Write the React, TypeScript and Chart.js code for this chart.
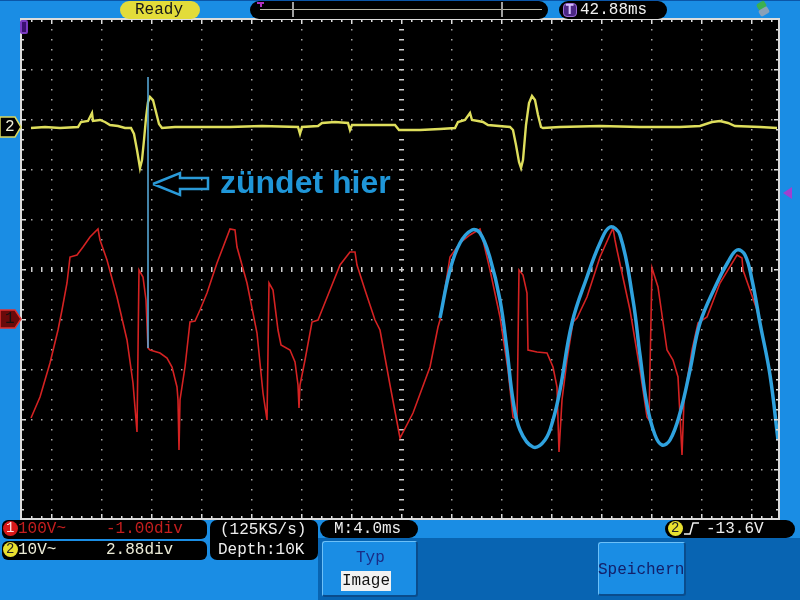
import React, { useEffect, useRef } from "react";
import { Chart, registerables } from "chart.js";

Chart.register(...registerables);

// Axes in oscilloscope divisions (0,0 = screen centre)
const X_MIN = -7.6;
const X_MAX = 7.56;
const Y_MIN = -5;
const Y_MAX = 5;

// CH1 (red), 100V/div
const ch1T = [-7.40,-7.22,-7.02,-6.86,-6.78,-6.68,-6.62,-6.48,-6.36,-6.22,-6.06,-6.02,-5.88,-5.68,-5.48,-5.36,-5.28,-5.24,-5.16,-5.10,-5.06,-5.02,-4.82,-4.68,-4.58,-4.48,-4.46,-4.44,-4.42,-4.32,-4.22,-4.12,-4.02,-3.88,-3.68,-3.42,-3.32,-3.28,-3.08,-2.88,-2.76,-2.68,-2.64,-2.56,-2.46,-2.40,-2.22,-2.12,-2.06,-2.04,-2.02,-1.92,-1.78,-1.66,-1.58,-1.42,-1.22,-1.02,-0.92,-0.88,-0.72,-0.52,-0.42,-0.22,-0.02,0.24,0.58,0.74,0.78,0.98,1.18,1.38,1.58,1.64,1.78,1.98,2.14,2.24,2.32,2.36,2.44,2.52,2.54,2.72,2.92,3.04,3.12,3.16,3.22,3.32,3.44,3.52,3.72,3.98,4.24,4.28,4.32,4.58,4.78,4.92,4.96,5.02,5.14,5.32,5.44,5.54,5.62,5.66,5.82,5.94,6.12,6.38,6.72,6.82,6.84,7.12,7.32,7.42,7.50];
const ch1V = [-2.98,-2.56,-1.88,-1.22,-0.82,-0.28,0.24,0.28,0.44,0.64,0.80,0.58,0.18,-0.56,-1.42,-2.28,-3.26,-0.02,-0.16,-0.62,-1.58,-1.62,-1.68,-1.78,-1.96,-2.36,-2.62,-3.62,-2.62,-1.96,-1.06,-1.04,-0.82,-0.48,0.12,0.80,0.78,0.44,-0.28,-1.28,-2.48,-3.02,-0.28,-0.42,-1.22,-1.52,-1.62,-1.86,-2.32,-2.78,-2.32,-1.82,-1.06,-1.02,-0.82,-0.42,0.08,0.34,0.34,0.08,-0.42,-1.02,-1.22,-2.32,-3.38,-2.88,-1.96,-1.16,-1.02,0.24,0.52,0.68,0.80,0.58,-0.02,-0.96,-2.02,-2.96,-3.02,-0.02,-0.12,-0.48,-1.62,-1.66,-1.68,-1.96,-2.36,-3.66,-2.62,-1.82,-1.06,-0.98,-0.56,0.24,0.82,0.58,0.38,-0.82,-2.02,-2.96,-3.02,0.02,-0.36,-1.62,-1.82,-2.16,-3.72,-2.62,-1.62,-1.08,-0.96,-0.28,0.28,0.22,-0.02,-0.82,-1.76,-2.42,-3.02];

// CH2 (yellow), 10V/div
const ch2T = [-7.40,-7.12,-6.82,-6.46,-6.40,-6.26,-6.18,-6.16,-6.02,-5.92,-5.82,-5.66,-5.52,-5.40,-5.34,-5.28,-5.22,-5.18,-5.14,-5.10,-5.06,-5.02,-4.96,-4.90,-4.84,-4.78,-4.52,-4.02,-3.42,-2.78,-2.06,-2.02,-1.98,-1.66,-1.58,-1.32,-1.06,-1.02,-0.98,-0.22,-0.12,-0.04,0.38,0.78,1.08,1.14,1.28,1.38,1.42,1.54,1.64,1.74,2.18,2.24,2.30,2.36,2.40,2.44,2.50,2.56,2.62,2.68,2.74,2.80,2.84,3.18,3.98,4.78,5.58,5.98,6.22,6.38,6.54,6.68,7.18,7.52];
const ch2V = [2.82,2.84,2.82,2.84,2.94,2.96,3.12,2.96,2.98,2.94,2.88,2.86,2.82,2.82,2.70,2.38,2.02,2.18,2.58,3.02,3.34,3.44,3.38,3.14,2.90,2.82,2.84,2.84,2.84,2.86,2.84,2.70,2.84,2.86,2.92,2.94,2.92,2.78,2.88,2.88,2.88,2.78,2.78,2.80,2.82,2.94,2.98,3.12,2.98,2.96,2.94,2.88,2.84,2.78,2.48,2.14,2.02,2.18,2.88,3.32,3.46,3.38,3.08,2.84,2.82,2.84,2.86,2.84,2.84,2.86,2.94,2.96,2.92,2.86,2.84,2.82];

// Hand-drawn sine fit (blue)
const fitT = [0.78,0.98,1.18,1.42,1.58,1.78,1.98,2.12,2.24,2.38,2.64,2.88,3.04,3.18,3.42,3.72,3.98,4.18,4.38,4.64,4.78,4.92,5.08,5.22,5.38,5.58,5.78,5.98,6.32,6.54,6.72,6.88,7.02,7.18,7.38,7.54];
const fitV = [-0.98,-0.02,0.52,0.78,0.72,0.22,-0.62,-1.62,-2.62,-3.22,-3.56,-3.42,-3.02,-2.42,-1.08,-0.16,0.52,0.84,0.68,-0.62,-1.72,-2.72,-3.32,-3.52,-3.42,-2.88,-2.02,-1.08,-0.28,0.14,0.38,0.28,-0.22,-1.08,-2.12,-3.42];

// Ignition marker line and arrow annotation
const cursorT = [-5.06, -5.06];
const cursorV = [3.84, -1.58];
const arrowT = [-4.96,-4.42,-4.42,-3.86,-3.86,-4.42,-4.42,-4.96];
const arrowV = [1.70,1.92,1.82,1.82,1.60,1.60,1.48,1.70];
const noteText = "zündet hier";
const noteT = -3.62;
const noteV = 1.52;

const pts = (xs: number[], ys: number[]) => xs.map((x, i) => ({ x, y: ys[i] }));

const scopeGrid = {
  id: "scopeGrid",
  beforeDatasetsDraw(chart: any) {
    const { ctx, chartArea: a, scales } = chart;
    const x = scales.x;
    const y = scales.y;
    ctx.save();
    ctx.fillStyle = "#000";
    ctx.fillRect(a.left, a.top, a.right - a.left, a.bottom - a.top);
    ctx.fillStyle = "#a8a8a8";
    for (let i = -7; i <= 7; i++) {
      if (i === 0) continue;
      const px = Math.round(x.getPixelForValue(i));
      for (let k = -24; k <= 24; k++) {
        const py = Math.round(y.getPixelForValue(k / 5));
        ctx.fillRect(px, py, 1.5, 1.5);
      }
    }
    for (let j = -4; j <= 4; j++) {
      if (j === 0) continue;
      const py = Math.round(y.getPixelForValue(j));
      for (let k = -37; k <= 37; k++) {
        const px = Math.round(x.getPixelForValue(k / 5));
        ctx.fillRect(px, py, 1.5, 1.5);
      }
    }
    ctx.fillStyle = "#d0d0d0";
    const cx = Math.round(x.getPixelForValue(0));
    const cy = Math.round(y.getPixelForValue(0));
    for (let k = -24; k <= 24; k++) {
      const py = Math.round(y.getPixelForValue(k / 5));
      ctx.fillRect(cx - 2, py, 5, 1.5);
    }
    for (let k = -37; k <= 37; k++) {
      const px = Math.round(x.getPixelForValue(k / 5));
      ctx.fillRect(px, cy - 2, 1.5, 5);
    }
    ctx.restore();
  },
  afterDatasetsDraw(chart: any) {
    const { ctx, chartArea: a, scales } = chart;
    const x = scales.x;
    const y = scales.y;
    ctx.save();
    ctx.strokeStyle = "#dcdcdc";
    ctx.lineWidth = 2;
    ctx.strokeRect(a.left, a.top, a.right - a.left, a.bottom - a.top);
    ctx.fillStyle = "#dcdcdc";
    for (let k = -37; k <= 37; k++) {
      const px = Math.round(x.getPixelForValue(k / 5));
      const len = k % 5 === 0 ? 5 : 3;
      ctx.fillRect(px, a.top, 1.5, len);
      ctx.fillRect(px, a.bottom - len, 1.5, len);
    }
    for (let k = -24; k <= 24; k++) {
      const py = Math.round(y.getPixelForValue(k / 5));
      const len = k % 5 === 0 ? 5 : 3;
      ctx.fillRect(a.left, py, len, 1.5);
      ctx.fillRect(a.right - len, py, len, 1.5);
    }
    ctx.font = 'bold 32px "Liberation Sans", Arial, sans-serif';
    ctx.fillStyle = "#1f96d8";
    ctx.textBaseline = "alphabetic";
    ctx.fillText(noteText, x.getPixelForValue(noteT), y.getPixelForValue(noteV));
    ctx.restore();
  },
};

const mono = '"Liberation Mono", "DejaVu Sans Mono", monospace';

const abs = (l: number, t: number, w: number, h: number, extra: any = {}) => ({
  position: "absolute" as const,
  left: l,
  top: t,
  width: w,
  height: h,
  boxSizing: "border-box" as const,
  ...extra,
});

const txt = (l: number, t: number, s: string, color: string, extra: any = {}) => (
  <div style={{ position: "absolute", left: l, top: t, font: `16px ${mono}`, color, lineHeight: "18px", whiteSpace: "pre", ...extra }}>{s}</div>
);

export default function App() {
  const ref = useRef<HTMLCanvasElement | null>(null);
  useEffect(() => {
    if (!ref.current) return;
    const chart = new Chart(ref.current, {
      type: "scatter",
      data: {
        datasets: [
          { data: pts(fitT, fitV), borderColor: "#2fa2de", borderWidth: 3.5, showLine: true, pointRadius: 0, tension: 0.4 },
          { data: pts(cursorT, cursorV), borderColor: "#5aaee0", borderWidth: 1.5, showLine: true, pointRadius: 0 },
          { data: pts(arrowT, arrowV), borderColor: "#2a9ad8", borderWidth: 2.5, showLine: true, pointRadius: 0 },
          { data: pts(ch2T, ch2V), borderColor: "#dede5c", borderWidth: 2.4, showLine: true, pointRadius: 0 },
          { data: pts(ch1T, ch1V), borderColor: "#d42222", borderWidth: 1.6, showLine: true, pointRadius: 0 },
        ],
      },
      options: {
        animation: false,
        responsive: false,
        devicePixelRatio: 1,
        events: [],
        layout: { padding: { left: 21, top: 19, right: 21, bottom: 81 } },
        plugins: { legend: { display: false }, tooltip: { enabled: false } },
        scales: {
          x: { type: "linear", min: X_MIN, max: X_MAX, display: false },
          y: { type: "linear", min: Y_MIN, max: Y_MAX, display: false },
        },
      },
      plugins: [scopeGrid],
    } as any);
    return () => chart.destroy();
  }, []);

  const pill = "#000";
  return (
    <div style={{ position: "fixed", left: 0, top: 0, width: 800, height: 600, overflow: "hidden", background: "#1a8de4" }}>
      {/* bottom menu area */}
      <div style={abs(318, 538, 482, 62, { background: "#0864b2" })} />
      <div style={abs(0, 0, 800, 1, { background: "#0b56a8" })} />
      <canvas ref={ref} width={800} height={600} style={{ position: "absolute", left: 0, top: 0, width: 800, height: 600 }} />

      {/* top bar */}
      <div style={abs(120, 1, 80, 18, { background: "#e3dc3a", borderRadius: 9 })} />
      {txt(135, 1, "Ready", "#1a1a1a")}
      <div style={abs(250, 1, 298, 18, { background: pill, borderRadius: 9 })} />
      <div style={abs(260, 9, 282, 1, { background: "#b8b8a8" })} />
      <div style={abs(292, 2, 2, 15, { background: "#a0a0a0" })} />
      <div style={abs(501, 2, 2, 15, { background: "#a0a0a0" })} />
      <div style={abs(257, 2, 7, 2, { background: "#b030c0" })} />
      <div style={abs(259.5, 2, 2, 5, { background: "#b030c0" })} />
      <div style={abs(559, 1, 108, 18, { background: pill, borderRadius: 9 })} />
      <div style={abs(563, 3, 14, 14, { background: "#4b2785", border: "1px solid #9a6ad8", borderRadius: 4 })} />
      {txt(565.5, 1, "T", "#d8c0ff", { fontSize: 14, fontWeight: "bold" })}
      {txt(580, 1, "42.88ms", "#f0f0f0")}
      <div style={abs(757, 2, 9, 7, { background: "#3cb050", borderRadius: 2, transform: "rotate(-30deg)" })} />
      <div style={abs(759, 8, 10, 7, { background: "#8aa0b8", borderRadius: 2, transform: "rotate(-30deg)" })} />

      {/* left / right markers */}
      <div style={abs(20, 20, 8, 14, { background: "#3a1070", border: "2px solid #7a3ac0", borderRadius: 2 })} />
      <svg width={800} height={600} style={{ position: "absolute", left: 0, top: 0 }}>
        <polygon points="0,117 15,117 21,127 15,137 0,137" fill="#000" stroke="#d8d860" strokeWidth={1.5} />
        <polygon points="0,310 15,310 21,319 15,328 0,328" fill="#6a0a0a" stroke="#e03030" strokeWidth={1.5} />
        <polygon points="792,187 783,193 792,199" fill="#a040d0" />
      </svg>
      {txt(5, 118, "2", "#f0f0d8")}
      {txt(5, 310, "1", "#111")}

      {/* status boxes */}
      <div style={abs(2, 520, 205, 19, { background: pill, borderRadius: 6 })} />
      <div style={abs(3, 521, 15, 15, { background: "#d81818", borderRadius: 8 })} />
      {txt(6, 519, "1", "#ffe0e0", { fontSize: 14 })}
      {txt(18, 520, "100V~", "#c41e1e")}
      {txt(106, 520, "-1.00div", "#c41e1e")}
      <div style={abs(2, 541, 205, 19, { background: pill, borderRadius: 6 })} />
      <div style={abs(3, 542, 15, 15, { background: "#e8e030", borderRadius: 8 })} />
      {txt(6, 540, "2", "#222", { fontSize: 14 })}
      {txt(18, 541, "10V~", "#ececd8")}
      {txt(106, 541, "2.88div", "#ececd8")}
      <div style={abs(210, 520, 108, 40, { background: pill, borderRadius: 7 })} />
      {txt(220, 521, "(125KS/s)", "#eeeeee")}
      {txt(218, 541, "Depth:10K", "#eeeeee")}
      <div style={abs(320, 520, 98, 18, { background: pill, borderRadius: 9 })} />
      {txt(334, 520, "M:4.0ms", "#eeeeee")}
      <div style={abs(665, 520, 130, 18, { background: pill, borderRadius: 9 })} />
      <div style={abs(668, 521, 15, 15, { background: "#e8e030", borderRadius: 8 })} />
      {txt(671, 519, "2", "#222", { fontSize: 14 })}
      <svg width={20} height={18} style={{ position: "absolute", left: 682, top: 520 }}>
        <polyline points="2,14 8,14 11,3 17,3" fill="none" stroke="#f0f0f0" strokeWidth={1.5} />
      </svg>
      {txt(706, 520, "-13.6V", "#eeeeee")}

      {/* menu buttons */}
      <div style={abs(322, 541, 96, 56, { background: "#1a8de4", borderTop: "1px solid #6cc0f8", borderLeft: "1px solid #6cc0f8", borderRight: "2px solid #0a4c8c", borderBottom: "2px solid #0a4c8c", borderRadius: 3 })} />
      {txt(356, 549, "Typ", "#1a2c86")}
      <div style={abs(341, 571, 50, 20, { background: "#f2f2f2" })} />
      {txt(342, 572, "Image", "#111")}
      <div style={abs(598, 542, 88, 54, { background: "#1a8de4", borderTop: "1px solid #6cc0f8", borderLeft: "1px solid #6cc0f8", borderRight: "2px solid #0a4c8c", borderBottom: "2px solid #0a4c8c", borderRadius: 3 })} />
      {txt(598, 561, "Speichern", "#13206a")}
    </div>
  );
}
